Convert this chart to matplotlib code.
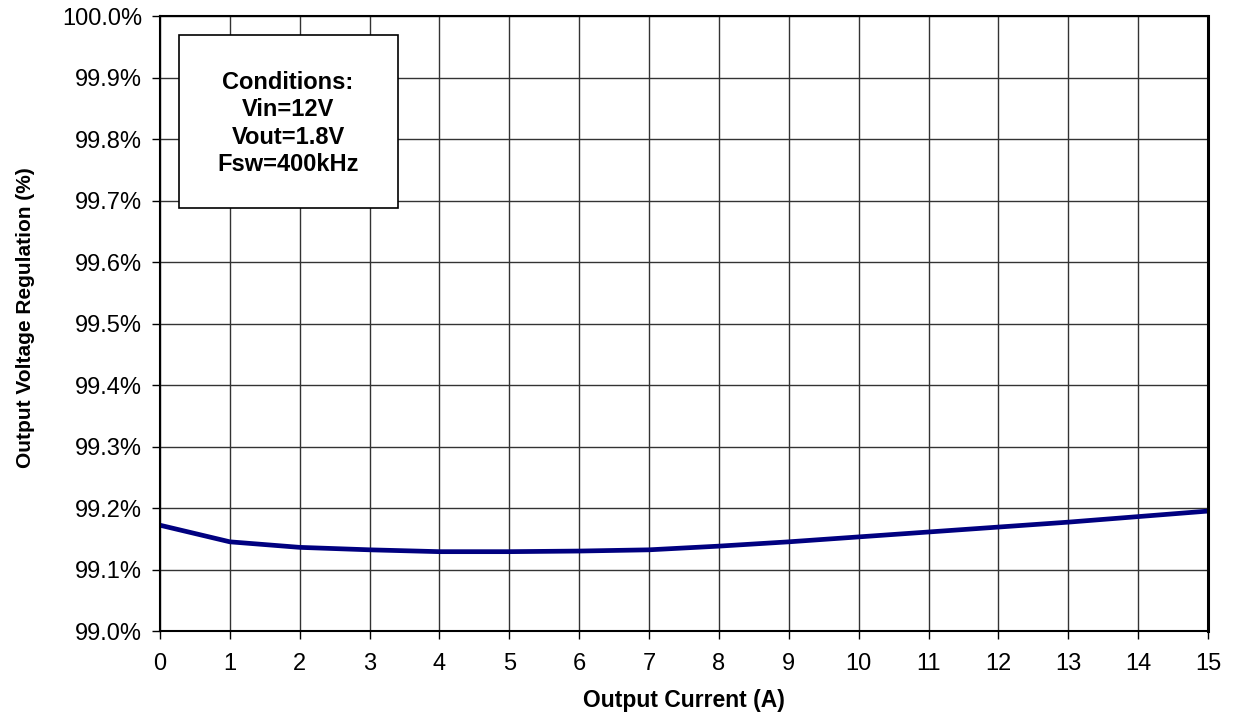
import numpy as np
import matplotlib.pyplot as plt
from matplotlib.patches import Rectangle
from matplotlib.ticker import FuncFormatter

plt.rcParams['font.family'] = ['Liberation Sans', 'DejaVu Sans']

# values
current = [0, 1, 2, 3, 4, 5, 6, 7, 8, 9, 10, 11, 12, 13, 14, 15]
regulation = [99.172, 99.145, 99.136, 99.132, 99.129, 99.129, 99.130, 99.132,
              99.138, 99.145, 99.153, 99.161, 99.169, 99.177, 99.186, 99.195]
conditions = "Conditions:\nVin=12V\nVout=1.8V\nFsw=400kHz"

fig = plt.figure(figsize=(12.33, 7.13), dpi=100)
ax = fig.add_axes([160/1233, 1 - 631/713, 1048/1233, 615/713])

ax.plot(current, regulation, color='#000080', lw=3.4, solid_capstyle='butt')

ax.set_xlim(0, 15)
ax.set_ylim(99.0, 100.0)
ax.set_xticks(np.arange(0, 16, 1))
ax.set_yticks(np.arange(99.0, 100.01, 0.1))
ax.yaxis.set_major_formatter(FuncFormatter(lambda v, p: "%.1f%%" % v))
ax.grid(True, color='#333333', lw=1)
ax.set_axisbelow(True)
for s in ax.spines.values():
    s.set_color('black')
    s.set_linewidth(1.5)
ax.spines['right'].set_linewidth(2.2)
ax.tick_params(axis='both', direction='out', length=6, width=1, labelsize=17, pad=7)
ax.tick_params(axis='x', pad=10)

ax.set_xlabel("Output Current (A)", fontsize=16.5, fontweight='bold', labelpad=10)
ax.set_ylabel("Output Voltage Regulation (%)", fontsize=15, fontweight='bold')
ax.yaxis.set_label_coords(-0.119, 0.51)

box = Rectangle((19/1048, 1 - 192/615), 219/1048, 173/615, transform=ax.transAxes,
                facecolor='white', edgecolor='black', lw=1.2, zorder=5)
ax.add_patch(box)
ax.text(128/1048, 1 - 107.5/615, conditions, transform=ax.transAxes, ha='center',
        va='center', fontsize=17, fontweight='bold', linespacing=1.25, zorder=6)

fig.savefig("out.png", dpi=100)
